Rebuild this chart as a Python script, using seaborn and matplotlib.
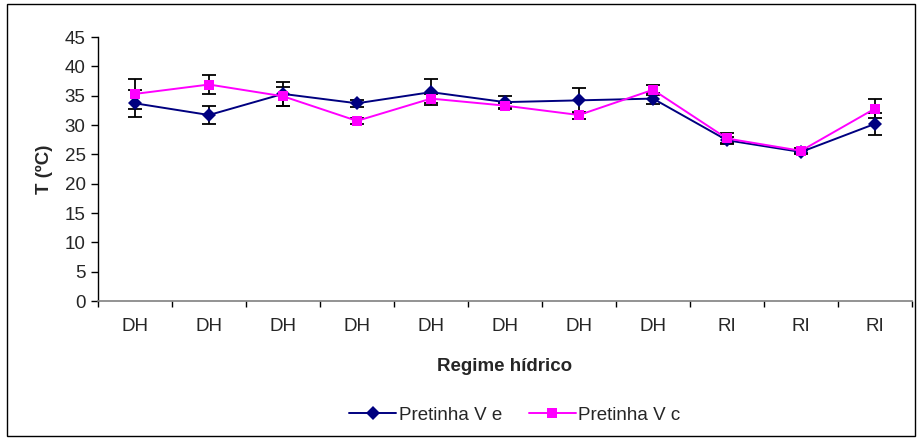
import matplotlib
matplotlib.use("Agg")
import matplotlib.pyplot as plt
import seaborn as sns
import pandas as pd
import numpy as np
from matplotlib.patches import Rectangle

categories = ["DH", "DH", "DH", "DH", "DH", "DH", "DH", "DH", "RI", "RI", "RI"]
series_names = ["Pretinha V e", "Pretinha V c"]
vals_e = [33.7, 31.7, 35.3, 33.7, 35.6, 33.9, 34.2, 34.5, 27.4, 25.4, 30.2]
err_e = [2.3, 1.5, 2.1, 0.6, 2.2, 1.1, 2.1, 1.0, 0.5, 0.4, 1.9]
vals_c = [35.3, 36.9, 34.9, 30.7, 34.5, 33.3, 31.7, 36.0, 27.7, 25.6, 32.8]
err_c = [2.5, 1.7, 1.6, 0.5, 0.7, 0.4, 0.6, 0.9, 0.9, 0.4, 1.6]
yticks = [0, 5, 10, 15, 20, 25, 30, 35, 40, 45]

sns.set_style("white")
plt.rcParams['font.family'] = ['Liberation Sans', 'DejaVu Sans']

FS = 13.5

fig = plt.figure(figsize=(9.21, 4.38), dpi=100)
ax = fig.add_axes([98/921, 1-301/438, (912-98)/921, (301-37)/438])

pos = np.arange(len(categories))
df = pd.DataFrame({
    "pos": np.concatenate([pos, pos]),
    "T": vals_e + vals_c,
    "err": err_e + err_c,
    "serie": [series_names[0]]*len(pos) + [series_names[1]]*len(pos),
})
colors = {series_names[0]: "#000080", series_names[1]: "#FF00FF"}
markers = {series_names[0]: "D", series_names[1]: "s"}

for name in series_names:
    sub = df[df.serie == name]
    ax.errorbar(sub["pos"], sub["T"], yerr=sub["err"], fmt="none", ecolor="black",
                elinewidth=1.3, capsize=5, capthick=1.3, zorder=2)

sns.lineplot(data=df, x="pos", y="T", hue="serie", style="serie",
             palette=colors, markers=markers, dashes=False, ax=ax,
             linewidth=1.4, markersize=7, markeredgewidth=0, zorder=3)

ax.set_xlim(-0.5, len(categories) - 0.5)
ax.set_ylim(0, 45)
ax.set_yticks(yticks)
ax.set_yticklabels([str(t) for t in yticks], fontsize=FS)
ax.set_xticks(np.arange(-0.5, len(categories), 1.0))
ax.set_xticklabels([])
ax.set_xticks(pos, minor=True)
ax.set_xticklabels(categories, minor=True, fontsize=FS)
ax.tick_params(axis="x", which="major", length=4, width=1, color="black", direction="out", bottom=True)
ax.tick_params(axis="x", which="minor", length=0, pad=12)
ax.tick_params(axis="y", length=5, width=1, color="black", direction="out", left=True, pad=4)

for s in ["top", "right"]:
    ax.spines[s].set_visible(False)
ax.spines["left"].set_color("black")
ax.spines["left"].set_linewidth(1)
ax.spines["bottom"].set_color("#808080")
ax.spines["bottom"].set_linewidth(1.2)

ax.set_xlabel("Regime hídrico", fontsize=FS, fontweight="bold", labelpad=17)
ax.set_ylabel("T (ºC)", fontsize=FS, fontweight="bold", labelpad=8)

handles, labels = ax.get_legend_handles_labels()
ax.legend(handles, labels, loc="center", bbox_to_anchor=(515/921, 1-415/438),
          bbox_transform=fig.transFigure, ncol=2, frameon=False, fontsize=FS,
          handlelength=2.5, columnspacing=1.4, handletextpad=0.15)

fig.patches.append(Rectangle((7/921, 2/438), (915-7)/921, (434-2)/438,
                             transform=fig.transFigure, fill=False,
                             edgecolor="black", linewidth=1))

fig.savefig("out.png", dpi=100)
